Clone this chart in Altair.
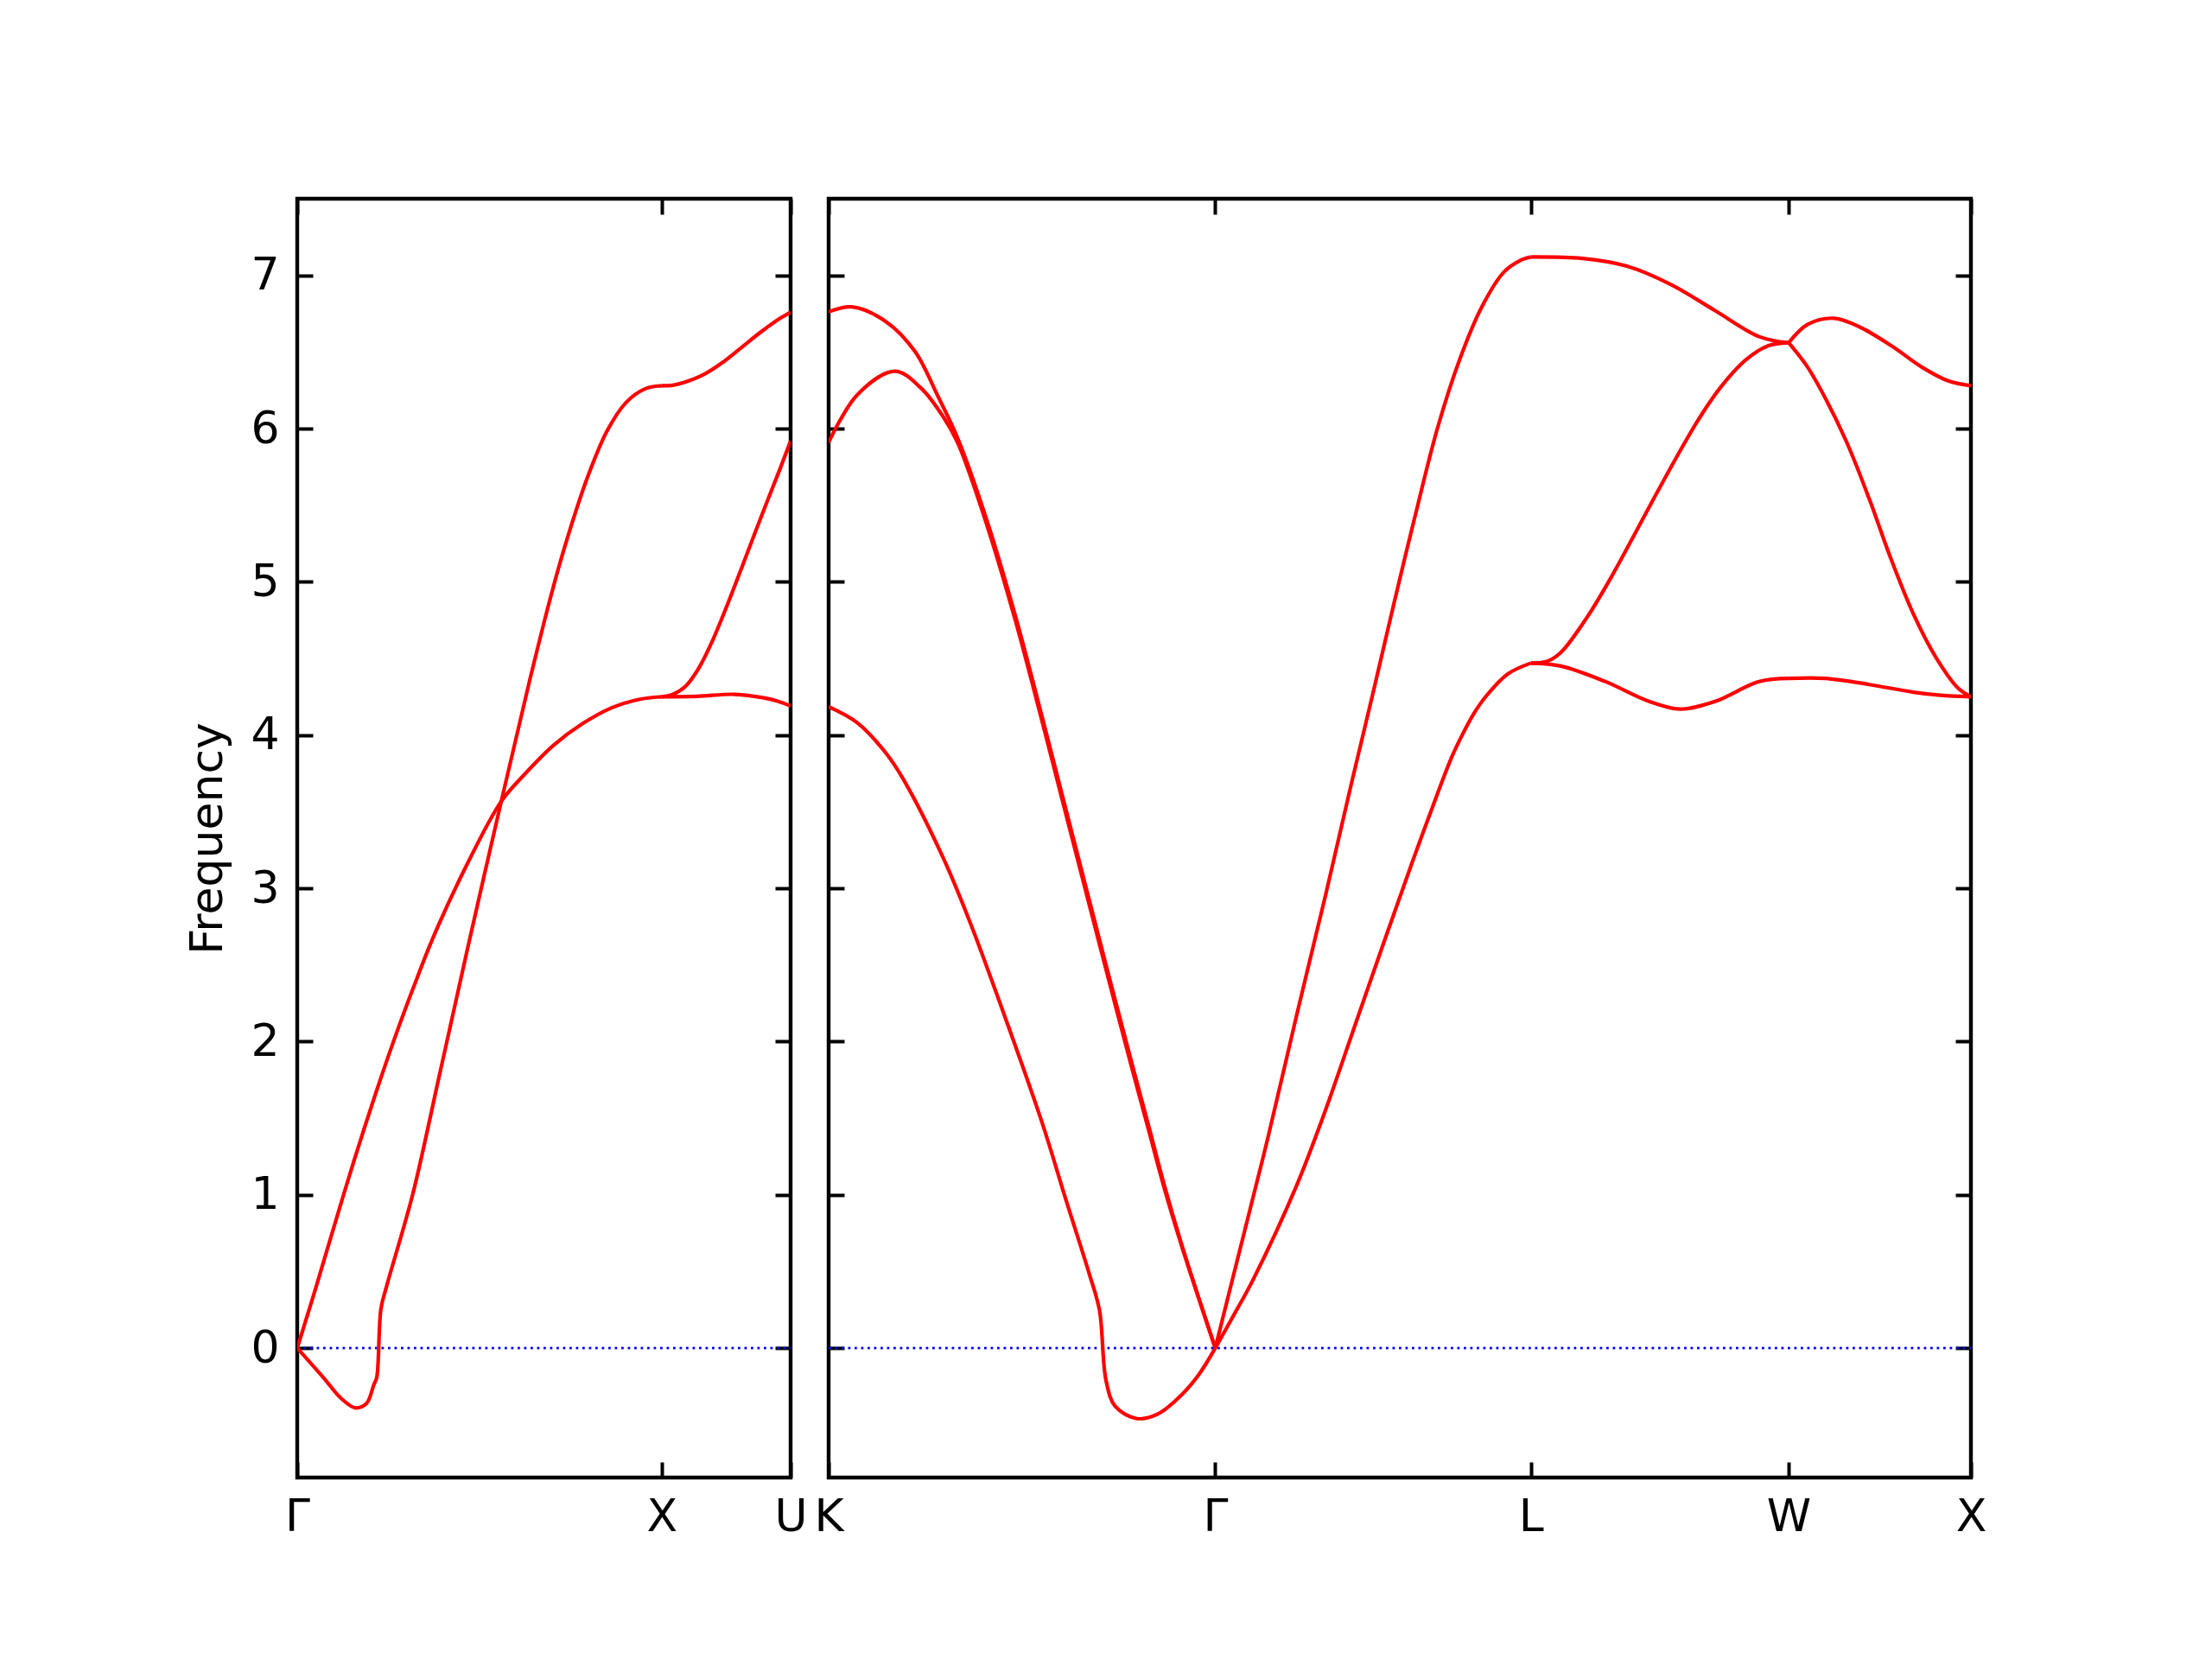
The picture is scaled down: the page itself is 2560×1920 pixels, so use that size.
import altair as alt
import pandas as pd

# ---------------- high-symmetry path ----------------
p1_labels = ["Γ", "X", "U"]
p1_pos = [0.0, 1.0, 1.3536]
p2_labels = ["K", "Γ", "L", "W", "X"]
p2_pos = [0.0, 1.0607, 1.9267, 2.6338, 3.1338]
y_ticks = [0, 1, 2, 3, 4, 5, 6, 7]

# ---------------- panel 1 : Γ - X - U ----------------
p1_gx_a_q = [0.0, 0.048, 0.127, 0.17, 0.215, 0.267, 0.32, 0.373, 0.4666, 0.5598, 0.6246, 0.7035, 0.7824, 0.8614, 0.9403, 1.0]
p1_gx_a_f = [0.0, 0.37, 1.0, 1.33, 1.66, 2.02, 2.36, 2.68, 3.16, 3.568, 3.746, 3.934, 4.074, 4.177, 4.234, 4.25]
p1_gx_b_q = [0.0, 0.0718, 0.119, 0.1587, 0.19, 0.21, 0.218, 0.2297, 0.2456, 0.3165, 0.39, 0.4666, 0.5598, 0.638, 0.7018, 0.743, 0.796, 0.849, 0.902, 0.955, 1.0]
p1_gx_b_f = [0.0, -0.193, -0.325, -0.39, -0.362, -0.24, -0.193, 0.257, 0.407, 1.0, 1.78, 2.60, 3.568, 4.36, 4.96, 5.30, 5.68, 5.98, 6.17, 6.26, 6.28]
p1_xu_top_q = [1.0, 1.03, 1.06, 1.113, 1.166, 1.219, 1.272, 1.325, 1.3536]
p1_xu_top_f = [6.28, 6.283, 6.30, 6.35, 6.43, 6.53, 6.63, 6.72, 6.76]
p1_xu_mid_q = [1.0, 1.03, 1.066, 1.1, 1.14, 1.18, 1.219, 1.272, 1.325, 1.3536]
p1_xu_mid_f = [4.25, 4.265, 4.32, 4.43, 4.62, 4.85, 5.09, 5.42, 5.74, 5.92]
p1_xu_low_q = [1.0, 1.098, 1.2, 1.28, 1.32, 1.3536]
p1_xu_low_f = [4.25, 4.253, 4.266, 4.243, 4.22, 4.19]

# ---------------- panel 2 : K - Γ - L - W - X ----------------
p2_kg_top_q = [0.0, 0.0632, 0.158, 0.2369, 0.300, 0.3553, 0.4342, 0.5132, 0.5921, 0.6395, 0.698, 0.761, 0.835, 0.877, 0.920, 0.968, 1.0607]
p2_kg_top_f = [6.762, 6.794, 6.697, 6.503, 6.21, 5.93, 5.40, 4.77, 4.06, 3.62, 3.08, 2.50, 1.83, 1.458, 1.07, 0.68, 0.0]
p2_kg_mid_q = [0.0, 0.079, 0.1816, 0.2527, 0.3158, 0.3553, 0.4342, 0.5132, 0.5921, 0.6395, 0.698, 0.761, 0.835, 0.877, 0.920, 0.968, 1.0607]
p2_kg_mid_f = [5.91, 6.222, 6.374, 6.266, 6.072, 5.90, 5.37, 4.74, 4.03, 3.59, 3.05, 2.47, 1.80, 1.43, 1.05, 0.67, 0.0]
p2_kg_low_q = [0.0, 0.079, 0.158, 0.2053, 0.316, 0.391, 0.496, 0.5874, 0.652, 0.7153, 0.743, 0.761, 0.7864, 0.8456, 0.9048, 0.968, 1.0154, 1.0607]
p2_kg_low_f = [4.185, 4.08, 3.88, 3.71, 3.19, 2.76, 2.08, 1.458, 0.96, 0.482, 0.248, -0.212, -0.381, -0.46, -0.428, -0.306, -0.174, 0.0]

p2_gl_up_q = [1.0607, 1.126, 1.2048, 1.2838, 1.3627, 1.4338, 1.495, 1.55, 1.61, 1.67, 1.731, 1.791, 1.852, 1.9, 1.9267]
p2_gl_up_f = [0.0, 0.62, 1.37, 2.17, 2.95, 3.68, 4.29, 4.85, 5.44, 6.0, 6.45, 6.79, 7.02, 7.10, 7.12]
p2_gl_low_q = [1.0607, 1.1103, 1.1653, 1.2838, 1.3627, 1.4417, 1.5206, 1.5995, 1.6785, 1.71, 1.737, 1.77, 1.804, 1.864, 1.9267]
p2_gl_low_f = [0.0, 0.21, 0.45, 1.06, 1.55, 2.09, 2.63, 3.16, 3.67, 3.86, 3.995, 4.14, 4.255, 4.40, 4.47]

p2_lw_top_q = [1.9267, 2.069, 2.19, 2.311, 2.432, 2.553, 2.6338]
p2_lw_top_f = [7.12, 7.11, 7.06, 6.94, 6.77, 6.60, 6.56]
p2_lw_mid_q = [1.9267, 1.97, 2.009, 2.081, 2.142, 2.202, 2.263, 2.323, 2.384, 2.444, 2.517, 2.577, 2.6338]
p2_lw_mid_f = [4.47, 4.48, 4.54, 4.77, 5.01, 5.27, 5.54, 5.80, 6.05, 6.26, 6.45, 6.54, 6.56]
p2_lw_low_q = [1.9267, 2.009, 2.13, 2.251, 2.335, 2.432, 2.553, 2.6338]
p2_lw_low_f = [4.47, 4.45, 4.35, 4.22, 4.17, 4.22, 4.35, 4.37]

p2_wx_top_q = [2.6338, 2.686, 2.759, 2.831, 2.916, 3.0, 3.073, 3.1338]
p2_wx_top_f = [6.56, 6.68, 6.72, 6.66, 6.54, 6.40, 6.31, 6.28]
p2_wx_fall_q = [2.6338, 2.686, 2.734, 2.795, 2.855, 2.916, 2.976, 3.037, 3.097, 3.1338]
p2_wx_fall_f = [6.56, 6.40, 6.20, 5.90, 5.54, 5.14, 4.79, 4.51, 4.31, 4.25]
p2_wx_low_q = [2.6338, 2.734, 2.855, 2.976, 3.05, 3.1338]
p2_wx_low_f = [4.37, 4.37, 4.33, 4.28, 4.26, 4.25]


def frame(branches):
    rows = []
    for name, qs, fs in branches:
        for q, f in zip(qs, fs):
            rows.append({"branch": name, "q": q, "f": f})
    return pd.DataFrame(rows)


df1 = frame([
    ("gx_a", p1_gx_a_q, p1_gx_a_f),
    ("gx_b", p1_gx_b_q, p1_gx_b_f),
    ("xu_top", p1_xu_top_q, p1_xu_top_f),
    ("xu_mid", p1_xu_mid_q, p1_xu_mid_f),
    ("xu_low", p1_xu_low_q, p1_xu_low_f),
])
df2 = frame([
    ("kg_top", p2_kg_top_q, p2_kg_top_f),
    ("kg_mid", p2_kg_mid_q, p2_kg_mid_f),
    ("kg_low", p2_kg_low_q, p2_kg_low_f),
    ("gl_up", p2_gl_up_q, p2_gl_up_f),
    ("gl_low", p2_gl_low_q, p2_gl_low_f),
    ("lw_top", p2_lw_top_q, p2_lw_top_f),
    ("lw_mid", p2_lw_mid_q, p2_lw_mid_f),
    ("lw_low", p2_lw_low_q, p2_lw_low_f),
    ("wx_top", p2_wx_top_q, p2_wx_top_f),
    ("wx_fall", p2_wx_fall_q, p2_wx_fall_f),
    ("wx_low", p2_wx_low_q, p2_wx_low_f),
])

YMIN, YMAX = -0.845, 7.5
TICK = 18
FONT = "DejaVu Sans"
FS = 52
H = 1480


def label_expr(pos, labels):
    expr = "'" + labels[-1] + "'"
    for i in range(len(pos) - 2, -1, -1):
        mid = (pos[i] + pos[i + 1]) / 2
        expr = f"datum.value < {mid:.5f} ? '{labels[i]}' : ({expr})"
    return expr


def panel(df, pos, labels, width, show_y):
    xs = alt.Scale(domain=[pos[0], pos[-1]], nice=False, zero=False)
    ys = alt.Scale(domain=[YMIN, YMAX], nice=False, zero=False)
    common = dict(offset=-TICK, tickSize=TICK, tickWidth=4, tickColor="black",
                  domain=False, grid=False, minExtent=0)
    yleft = dict(common, orient="left", values=y_ticks, labels=show_y,
                 labelFont=FONT, labelFontSize=FS, labelColor="black", labelPadding=21)
    if show_y:
        ytitle = "Frequency"
        yleft.update(titleFont=FONT, titleFontSize=FS, titleFontWeight="normal",
                     titleColor="black", titlePadding=22)
    else:
        ytitle = None
    lines = alt.Chart(df).mark_line(color="red", strokeWidth=4.2,
                                    interpolate="catmull-rom", clip=True).encode(
        x=alt.X("q:Q", scale=xs, title=None,
                axis=alt.Axis(orient="bottom", values=pos, labelExpr=label_expr(pos, labels),
                              labelFont=FONT, labelFontSize=FS, labelColor="black",
                              labelPadding=20, labelFlush=False, labelOverlap=False,
                              labelBound=False, **common)),
        y=alt.Y("f:Q", scale=ys, title=ytitle, axis=alt.Axis(**yleft)),
        detail="branch:N",
    )
    zero_df = pd.DataFrame({"x0": [pos[0]], "x1": [pos[-1]], "f": [0.0]})
    zero = alt.Chart(zero_df).mark_rule(color="blue", strokeWidth=2.6,
                                        strokeDash=[2.8, 4.7]).encode(
        x=alt.X("x0:Q", scale=xs, title=None,
                axis=alt.Axis(orient="top", values=pos, labels=False, **common)),
        x2="x1:Q",
        y=alt.Y("f:Q", scale=ys, title=None,
                axis=alt.Axis(orient="right", values=y_ticks, labels=False, **common)),
    )
    return alt.layer(zero, lines).resolve_scale(x="independent", y="independent").properties(
        width=width, height=H)


W1 = 571
W2 = 1322
chart = alt.hconcat(
    panel(df1, p1_pos, p1_labels, W1, True),
    panel(df2, p2_pos, p2_labels, W2, False),
    spacing=2,
).configure(
    padding={"left": 204, "top": 217, "right": 10, "bottom": 10},
    background="white",
).configure_view(stroke="black", strokeWidth=4.4)

chart.save("out.html", embed_options={"renderer": "svg", "actions": False})
